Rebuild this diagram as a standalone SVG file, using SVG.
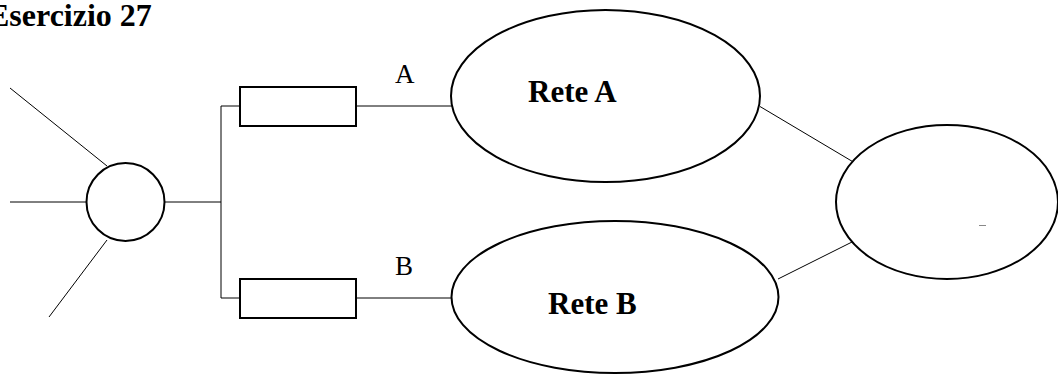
<svg xmlns="http://www.w3.org/2000/svg" width="1058" height="374" viewBox="0 0 1058 374">
<style>
.thick{fill:#fff;stroke:#000;stroke-width:2}
.wire{fill:none;stroke:#000;stroke-width:1}
.title{font-family:"Liberation Serif",serif;font-weight:bold;font-size:32px;fill:#000}
.lbl{font-family:"Liberation Serif",serif;font-size:27px;fill:#000}
.net{font-family:"Liberation Serif",serif;font-weight:bold;font-size:31px;fill:#000}
</style>
<rect width="1058" height="374" fill="#fff"/>
<text class="title" x="-12" y="26">Esercizio 27</text>
<g id="connectors">
<line class="wire" x1="10" y1="88" x2="107" y2="166"/>
<line class="wire" x1="10" y1="202" x2="87" y2="202"/>
<line class="wire" x1="49" y1="317" x2="107" y2="240"/>
<line class="wire" x1="164" y1="202" x2="221" y2="202"/>
<polyline class="wire" points="240,106 221,106 221,298 240,298"/>
<line class="wire" x1="356" y1="106" x2="452" y2="106"/>
<line class="wire" x1="356" y1="298" x2="452" y2="298"/>
<line class="wire" x1="760" y1="106.5" x2="855" y2="163"/>
<line class="wire" x1="778" y1="279" x2="856" y2="240"/>
</g>
<g id="hub"><circle class="thick" cx="125.5" cy="202" r="39"/></g>
<g id="boxA"><rect class="thick" x="240" y="87" width="116" height="39"/></g>
<g id="boxB"><rect class="thick" x="240" y="279" width="116" height="39"/></g>
<g id="labelA"><text class="lbl" x="395" y="83">A</text></g>
<g id="labelB"><text class="lbl" x="395" y="275">B</text></g>
<g id="reteA">
<ellipse class="thick" cx="605.5" cy="96" rx="154.5" ry="86"/>
<text class="net" x="528" y="102">Rete A</text>
</g>
<g id="reteB">
<ellipse class="thick" cx="615" cy="297" rx="163.5" ry="76"/>
<text class="net" x="548" y="314">Rete B</text>
</g>
<g id="right">
<ellipse class="thick" cx="947" cy="202" rx="111" ry="77"/>
<line x1="979" y1="225.5" x2="986" y2="225.5" stroke="#888" stroke-width="1"/>
</g>
</svg>
